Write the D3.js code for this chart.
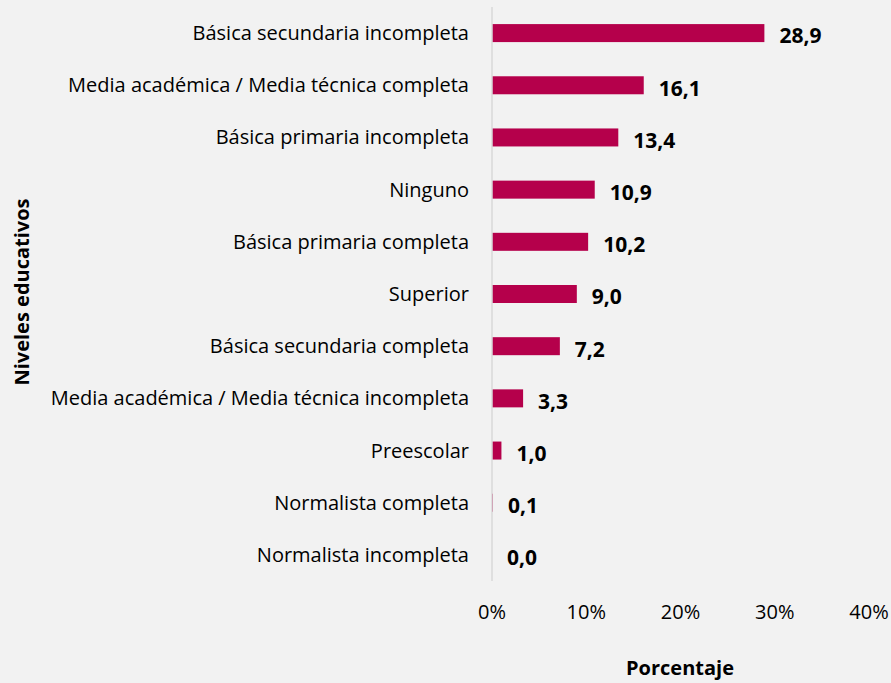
<!DOCTYPE html>
<html>
<head>
<meta charset="utf-8">
<script src="https://d3js.org/d3.v7.min.js"></script>
<style>
  body { margin: 0; background: #f2f2f2; }
  text { font-family: "Open Sans", "Noto Sans", sans-serif; fill: #000; }
</style>
</head>
<body>
<svg id="chart" width="891" height="683"></svg>
<script>
// data
const niveles = [
  'Básica secundaria incompleta',
  'Media académica / Media técnica completa',
  'Básica primaria incompleta',
  'Ninguno',
  'Básica primaria completa',
  'Superior',
  'Básica secundaria completa',
  'Media académica / Media técnica incompleta',
  'Preescolar',
  'Normalista completa',
  'Normalista incompleta'
];
const porcentajes = [28.9, 16.1, 13.4, 10.9, 10.2, 9.0, 7.2, 3.3, 1.0, 0.1, 0.0];
const ticks = [0, 10, 20, 30, 40];

const svg = d3.select('#chart');
const W = 891, H = 683;

svg.append('rect').attr('width', W).attr('height', H).attr('fill', '#f2f2f2');

const x = d3.scaleLinear().domain([0, 40]).range([492, 869]);
const y = d3.scalePoint().domain(niveles).range([7, 581]).padding(0.5);
const barH = 18;

const data = niveles.map((n, i) => ({ name: n, value: porcentajes[i] }));

// bars
svg.selectAll('rect.bar')
  .data(data)
  .enter().append('rect')
  .attr('class', 'bar')
  .attr('x', x(0))
  .attr('y', d => y(d.name) - barH / 2)
  .attr('width', d => x(d.value) - x(0))
  .attr('height', barH)
  .attr('fill', '#b5004b');

// vertical axis line
svg.append('line')
  .attr('x1', x(0)).attr('x2', x(0))
  .attr('y1', 7).attr('y2', 581)
  .attr('stroke', '#d9d9d9')
  .attr('stroke-width', 1.5);

// category labels
svg.selectAll('text.cat')
  .data(data)
  .enter().append('text')
  .attr('class', 'cat')
  .attr('x', 469)
  .attr('y', d => y(d.name))
  .attr('dy', '0.35em')
  .attr('text-anchor', 'end')
  .style('font-size', '20px')
  .text(d => d.name);

// value labels
svg.selectAll('text.val')
  .data(data)
  .enter().append('text')
  .attr('class', 'val')
  .attr('x', d => x(d.value) + 15)
  .attr('y', d => y(d.name) + 3)
  .attr('dy', '0.35em')
  .style('font-size', '21px')
  .style('font-weight', 'bold')
  .text(d => d3.format('.1f')(d.value).replace('.', ','));

// x tick labels
svg.selectAll('text.tick')
  .data(ticks)
  .enter().append('text')
  .attr('class', 'tick')
  .attr('x', d => x(d))
  .attr('y', 612)
  .attr('dy', '0.35em')
  .attr('text-anchor', 'middle')
  .style('font-size', '20px')
  .text(d => d + '%');

// axis titles
svg.append('text')
  .attr('x', 680)
  .attr('y', 668)
  .attr('dy', '0.35em')
  .attr('text-anchor', 'middle')
  .style('font-size', '20px')
  .style('font-weight', 'bold')
  .text('Porcentaje');

svg.append('text')
  .attr('transform', 'translate(22,292) rotate(-90)')
  .attr('dy', '0.35em')
  .attr('text-anchor', 'middle')
  .style('font-size', '20px')
  .style('font-weight', 'bold')
  .text('Niveles educativos');
</script>
</body>
</html>
